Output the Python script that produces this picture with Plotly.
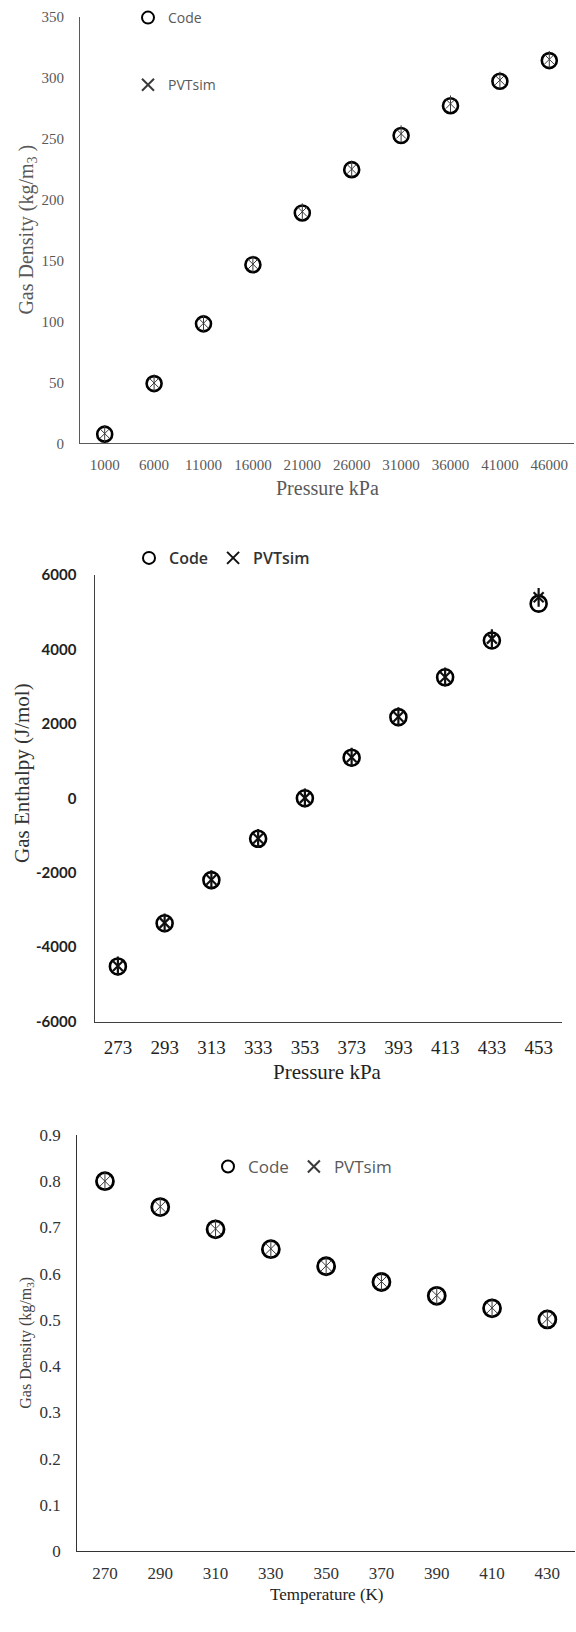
import plotly.graph_objects as go

W, H = 576, 1632

# ---------------- data ----------------
pressure_kpa = ["1000", "6000", "11000", "16000", "21000", "26000", "31000", "36000", "41000", "46000"]
density_code_1 = [7.5, 49, 98, 146.5, 189, 224.5, 252.5, 277, 297, 314]
density_pvtsim_1 = [8, 49.5, 98.5, 147, 190, 225, 254, 278.5, 298, 315]

enthalpy_x = ["273", "293", "313", "333", "353", "373", "393", "413", "433", "453"]
enthalpy_code = [-4520, -3360, -2200, -1090, 0, 1090, 2180, 3250, 4240, 5230]
enthalpy_pvtsim = [-4510, -3350, -2190, -1080, 10, 1100, 2190, 3260, 4290, 5400]
enthalpy_ticks = [-6000, -4000, -2000, 0, 2000, 4000, 6000]
enthalpy_ticktext = ["-6000", "-4000", "-2000", "0", "2000", "4000", "6000"]

temperature_k = ["270", "290", "310", "330", "350", "370", "390", "410", "430"]
density_code_3 = [0.800, 0.744, 0.696, 0.653, 0.616, 0.582, 0.552, 0.525, 0.501]
density_pvtsim_3 = [0.800, 0.745, 0.697, 0.654, 0.617, 0.583, 0.553, 0.526, 0.502]


def px_x(p):
    return p / W


def px_y(p):
    return 1 - p / H


SERIF = "Liberation Serif, Times New Roman, serif"
SANS = "Open Sans, Noto Sans, sans-serif"

fig = go.Figure()


def add_pair(xs, code, pvt, xa, ya, legend, csize, cwidth, asize_x, asize_v, awidth, acolor):
    fig.add_trace(go.Scatter(
        x=xs, y=code, mode="markers", name="Code", xaxis=xa, yaxis=ya,
        legend=legend, legendgroup=legend + "c", legendrank=1,
        marker=dict(symbol="circle-open", size=csize, color="black",
                    line=dict(width=cwidth, color="black")),
        hoverinfo="x+y"))
    fig.add_trace(go.Scatter(
        x=xs, y=pvt, mode="markers", name="PVTsim", xaxis=xa, yaxis=ya,
        legend=legend, legendgroup=legend + "p", legendrank=2,
        marker=dict(symbol="x-thin-open", size=asize_x, color=acolor,
                    line=dict(width=awidth, color=acolor)),
        hoverinfo="x+y"))
    fig.add_trace(go.Scatter(
        x=xs, y=pvt, mode="markers", name="PVTsim", xaxis=xa, yaxis=ya,
        legend=legend, legendgroup=legend + "p", showlegend=False,
        marker=dict(symbol="line-ns-open", size=asize_v, color=acolor,
                    line=dict(width=awidth, color=acolor)),
        hoverinfo="skip"))


add_pair(pressure_kpa, density_code_1, density_pvtsim_1, "x", "y", "legend",
         15, 2.6, 9.5, 12, 1.0, "#3a3a3a")
add_pair(enthalpy_x, enthalpy_code, enthalpy_pvtsim, "x2", "y2", "legend2",
         16, 2.6, 10, 13.5, 2.2, "#111111")
add_pair(temperature_k, density_code_3, density_pvtsim_3, "x3", "y3", "legend3",
         17, 2.8, 10.5, 13.5, 1.0, "#3a3a3a")

# ---------------- axes ----------------
common_x = dict(type="category", showgrid=False, zeroline=False, showline=True,
                ticks="", fixedrange=True, automargin=False)
common_y = dict(showgrid=False, zeroline=False, showline=True, ticks="", fixedrange=True,
                automargin=False)

fig.update_layout(
    xaxis=dict(common_x, domain=[px_x(80), px_x(574)], anchor="y", range=[-0.5, 9.5],
               linecolor="#595959", linewidth=1.2,
               tickfont=dict(family=SERIF, size=15, color="#595959"), ticklabelstandoff=8),
    yaxis=dict(common_y, domain=[px_y(443.3), px_y(16.7)], anchor="x", range=[0, 350], dtick=50,
               linecolor="#595959", linewidth=1.2,
               tickfont=dict(family=SERIF, size=15, color="#595959"), ticklabelstandoff=12),
    xaxis2=dict(common_x, domain=[px_x(94.5), px_x(562)], anchor="y2", range=[-0.5, 9.5],
                linecolor="#404040", linewidth=1.3,
                tickfont=dict(family=SERIF, size=19, color="#222222"), ticklabelstandoff=9),
    yaxis2=dict(common_y, domain=[px_y(1021.5), px_y(575)], anchor="x2", range=[-6000, 6000],
                tickvals=enthalpy_ticks, ticktext=enthalpy_ticktext,
                linecolor="#404040", linewidth=1.3,
                tickfont=dict(family="Lato, Open Sans, sans-serif", size=15, color="#222222",
                              weight="bold"),
                ticklabelstandoff=14),
    xaxis3=dict(common_x, domain=[px_x(77.3), px_x(575)], anchor="y3", range=[-0.5, 8.5],
                linecolor="#333333", linewidth=1.3,
                tickfont=dict(family=SERIF, size=17, color="#333333"), ticklabelstandoff=6),
    yaxis3=dict(common_y, domain=[px_y(1551), px_y(1135)], anchor="x3", range=[0, 0.9], dtick=0.1,
                linecolor="#333333", linewidth=1.3,
                tickfont=dict(family=SERIF, size=17, color="#333333"), ticklabelstandoff=12),
)

# ---------------- legends ----------------
fig.update_layout(
    legend=dict(x=px_x(128), y=px_y(2), xanchor="left", yanchor="top",
                orientation="v", tracegroupgap=46, itemwidth=30, itemsizing="constant",
                bgcolor="rgba(0,0,0,0)", font=dict(family=SANS, size=14, color="#595959")),
    legend2=dict(x=px_x(129), y=px_y(541), xanchor="left", yanchor="top",
                 orientation="h", itemwidth=30, itemsizing="constant",
                 bgcolor="rgba(0,0,0,0)",
                 font=dict(family=SANS, size=16, color="#333333", weight=600)),
    legend3=dict(x=px_x(208), y=px_y(1149), xanchor="left", yanchor="top",
                 orientation="h", itemwidth=30, itemsizing="constant",
                 bgcolor="rgba(0,0,0,0)", font=dict(family=SANS, size=17, color="#595959")),
)

# ---------------- axis titles ----------------
def title(text, x, y, size, color, angle=0):
    fig.add_annotation(text=text, xref="paper", yref="paper", x=px_x(x), y=px_y(y),
                       xanchor="center", yanchor="middle", showarrow=False,
                       textangle=angle, font=dict(family=SERIF, size=size, color=color))


title("Gas Density (kg/m<sub>3</sub> )", 27.6, 230, 20, "#595959", -90)
title("Pressure kPa", 327, 488, 20, "#595959")
title("Gas Enthalpy (J/mol)", 22, 773, 21, "#333333", -90)
title("Pressure kPa", 327, 1071.7, 21, "#222222")
title("Gas Density (kg/m<sub>3</sub>)", 25.7, 1343, 16, "#444444", -90)
title("Temperature (K)", 327, 1594, 17, "#222222")

fig.update_layout(
    width=W, height=H, margin=dict(l=0, r=0, t=0, b=0, autoexpand=False),
    paper_bgcolor="white", plot_bgcolor="white", showlegend=True,
)

fig.write_html(
    "out.html",
    config={"displayModeBar": False},
    post_script="document.body.style.margin='0';document.body.style.padding='0';"
                "document.documentElement.style.overflow='hidden';",
)
